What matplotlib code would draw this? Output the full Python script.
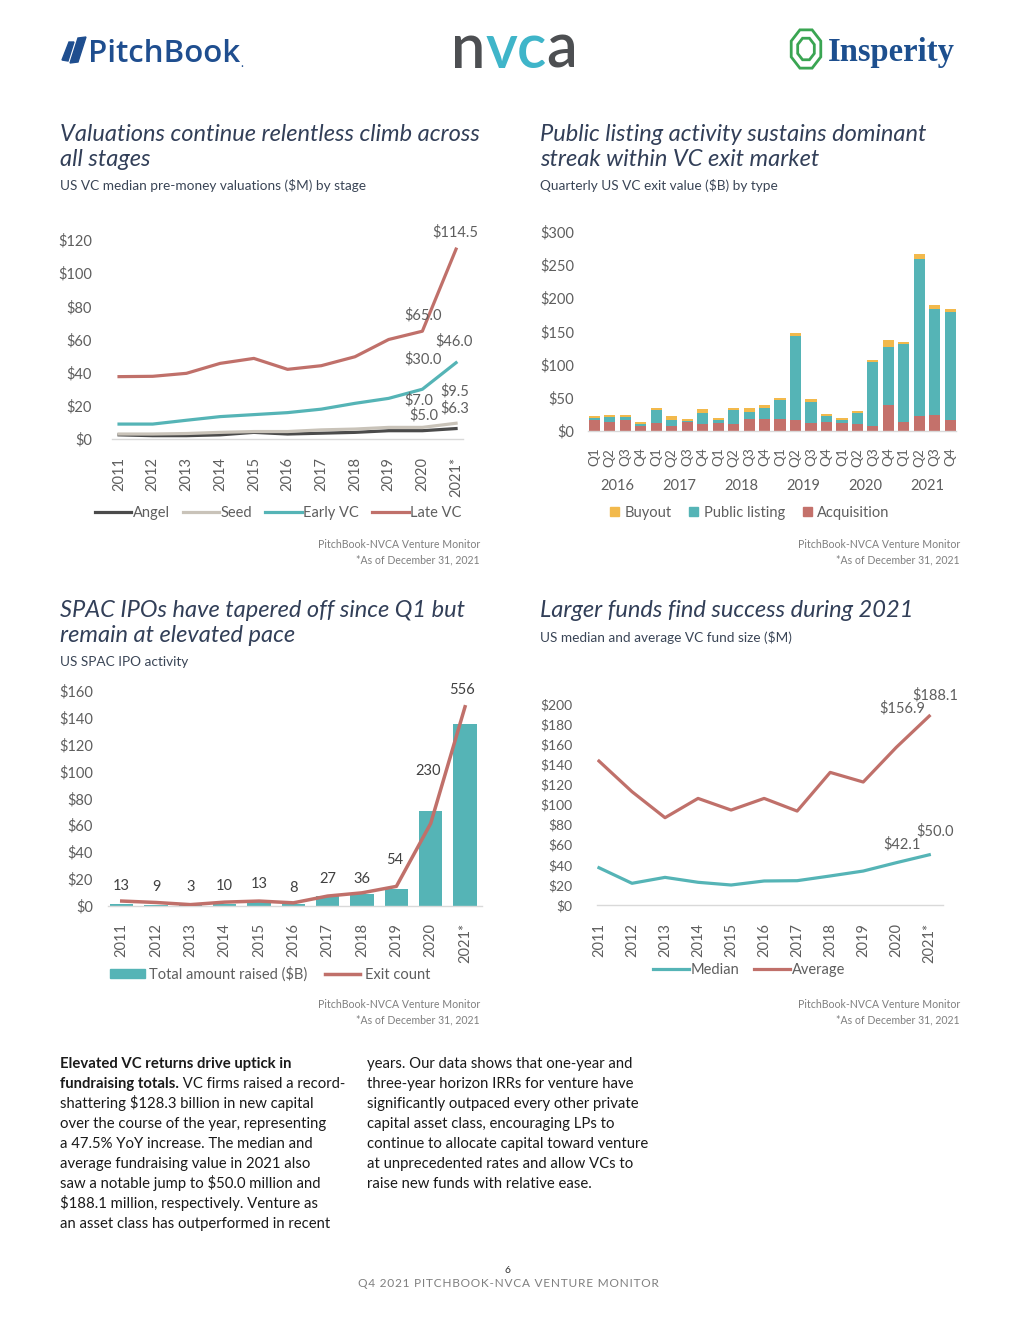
import numpy as np
import matplotlib.pyplot as plt
from matplotlib.lines import Line2D
from matplotlib.patches import Patch, Polygon, RegularPolygon
from matplotlib.text import Annotation

plt.rcParams['font.family'] = ['Lato', 'DejaVu Sans']
plt.rcParams['text.parse_math'] = False

# ---- data ----
years = ['2011', '2012', '2013', '2014', '2015', '2016', '2017', '2018', '2019', '2020', '2021*']

# valuations ($M)
angel = [2.5, 2.0, 2.0, 2.5, 4.0, 3.0, 3.5, 4.0, 5.0, 5.0, 6.3]
seed = [3.0, 3.0, 3.3, 4.0, 4.5, 4.5, 5.5, 6.0, 7.0, 7.0, 9.5]
early_vc = [9.0, 9.0, 11.3, 13.5, 14.7, 15.9, 18.0, 21.5, 24.5, 30.0, 46.0]
late_vc = [37.6, 37.8, 39.6, 45.6, 48.6, 42.0, 44.2, 49.6, 60.0, 65.0, 114.5]
val_ticks = [0, 20, 40, 60, 80, 100, 120]

# exit value ($B)
exit_years = ['2016', '2017', '2018', '2019', '2020', '2021']
quarters = ['Q1', 'Q2', 'Q3', 'Q4'] * 6
acquisition = [17.0, 14.0, 16.5, 8.0, 12.0, 8.0, 13.0, 10.5, 12.5, 11.0, 18.0, 18.0,
               18.0, 16.5, 12.0, 14.0, 12.0, 10.5, 8.0, 39.0, 14.0, 22.6, 24.0, 16.5]
public_listing = [3.0, 7.0, 4.5, 3.0, 19.5, 8.5, 1.5, 16.5, 4.0, 20.5, 10.5, 16.5,
                  28.5, 126.5, 31.6, 8.5, 4.5, 16.5, 96.0, 87.5, 117.0, 236.4, 159.6, 162.0]
buyout = [3.0, 3.0, 3.0, 2.5, 3.0, 6.0, 3.5, 6.0, 3.0, 3.5, 6.0, 4.5,
          3.0, 4.0, 4.5, 3.0, 3.0, 3.0, 3.0, 10.5, 3.0, 7.5, 6.0, 4.5]
exit_ticks = [0, 50, 100, 150, 200, 250, 300]

# SPAC IPOs
spac_raised = [1.6, 0.6, 0.2, 1.0, 3.0, 1.5, 7.5, 9.0, 12.8, 70.5, 135.5]
spac_count = [13, 9, 3, 10, 13, 8, 27, 36, 54, 230, 556]
spac_ticks = [0, 20, 40, 60, 80, 100, 120, 140, 160]

# fund size ($M)
fund_median = [37.1, 21.6, 27.5, 22.6, 19.9, 23.9, 24.2, 28.9, 33.8, 42.1, 50.0]
fund_average = [143.3, 112.8, 86.9, 106.1, 94.5, 106.1, 93.5, 132.0, 122.4, 156.9, 188.1]
fund_ticks = [0, 20, 40, 60, 80, 100, 120, 140, 160, 180, 200]

# ---- colours ----
C_ANGEL = '#4b4b4b'
C_SEED = '#c9c3b9'
C_TEAL = '#55b4b6'
C_RED = '#c0706a'
C_BUY = '#f2b94c'
C_ACQ = '#c4716b'
C_TITLE = '#323f58'
C_SUB = '#3a4556'
C_TICK = '#5e5e5e'
C_SRC = '#7f7f7f'

W, H = 1020, 1320
fig = plt.figure(figsize=(W / 100, H / 100), dpi=100)


def box(left, top, right, bottom):
    return [left / W, 1 - bottom / H, (right - left) / W, (bottom - top) / H]


def ftext(x, y, s, **kw):
    return fig.text(x / W, 1 - y / H, s, va=kw.pop('va', 'baseline'), **kw)


def chain(prev, s, **kw):
    # text placed right after another text, on the same baseline
    a = Annotation(s, xy=(1, 0), xycoords=prev, va='bottom', ha='left',
                   annotation_clip=False, **kw)
    fig.add_artist(a)
    return a


def style(ax, xpad, ypad, size=10.5):
    for side in ['top', 'left', 'right']:
        ax.spines[side].set_visible(False)
    ax.spines['bottom'].set_color('#d9d9d9')
    ax.spines['bottom'].set_linewidth(1)
    ax.tick_params(axis='both', length=0, labelcolor=C_TICK, labelsize=size)
    ax.tick_params(axis='x', pad=xpad)
    ax.tick_params(axis='y', pad=ypad)
    ax.set_facecolor('none')


def titles(x, y, lines, sub):
    for i, line in enumerate(lines):
        ftext(x, y + i * 24.5, line, fontsize=17, style='italic', color=C_TITLE)
    ftext(x, y + len(lines) * 24.5, sub, fontsize=9.8, color=C_SUB)


def source(x, y):
    ftext(x, y, 'PitchBook-NVCA Venture Monitor', fontsize=7.6, color=C_SRC, ha='right')
    ftext(x, y + 15, '*As of December 31, 2021', fontsize=7.6, color=C_SRC, ha='right')


x = np.arange(len(years))

# ---- chart 1: valuations ----
titles(60, 141, ['Valuations continue relentless climb across', 'all stages'],
       'US VC median pre-money valuations ($M) by stage')
ax1 = fig.add_axes(box(112.3, 223.4, 462.8, 439))
ax1.plot(x, angel, color=C_ANGEL, lw=2.3, label='Angel')
ax1.plot(x, seed, color=C_SEED, lw=2.3, label='Seed')
ax1.plot(x, early_vc, color=C_TEAL, lw=2.3, label='Early VC')
ax1.plot(x, late_vc, color=C_RED, lw=2.3, label='Late VC')
ax1.set_xlim(-0.2, 10.2)
ax1.set_ylim(0, 130)
ax1.set_yticks(val_ticks)
ax1.set_yticklabels([f'${t}' for t in val_ticks])
ax1.set_xticks(x)
ax1.set_xticklabels(years, rotation=90)
style(ax1, 13, 14.5)
for series, i, dx, dy in [(late_vc, 10, -1, 17), (late_vc, 9, 1, 16),
                          (early_vc, 10, -2, 21), (early_vc, 9, 1, 30),
                          (seed, 10, -1, 32), (seed, 9, -4, 27),
                          (angel, 10, -1, 20), (angel, 9, 1, 15)]:
    ax1.annotate(f'${series[i]:.1f}', xy=(i, series[i]), xytext=(dx, dy),
                 textcoords='offset pixels', ha='center', va='center',
                 fontsize=10.5, color=C_TICK)
ax1.legend(loc='center', bbox_to_anchor=(278 / W, 1 - 513 / H),
           bbox_transform=fig.transFigure, ncol=4, frameon=False,
           handlelength=2.5, handletextpad=0.1, columnspacing=0.9,
           fontsize=10.5, labelcolor=C_TICK)
source(480, 548)

# ---- chart 2: exits ----
titles(540, 141, ['Public listing activity sustains dominant', 'streak within VC exit market'],
       'Quarterly US VC exit value ($B) by type')
ax2 = fig.add_axes(box(588.1, 218.4, 956.5, 431))
q = np.arange(len(quarters))
bottom2 = np.array(acquisition)
ax2.bar(q, acquisition, width=0.72, color=C_ACQ)
ax2.bar(q, public_listing, width=0.72, bottom=bottom2, color=C_TEAL)
bottom2 = bottom2 + np.array(public_listing)
ax2.bar(q, buyout, width=0.72, bottom=bottom2, color=C_BUY)
ax2.set_xlim(-0.4, 23.4)
ax2.set_ylim(0, 320)
ax2.set_yticks(exit_ticks)
ax2.set_yticklabels([f'${t}' for t in exit_ticks])
ax2.set_xticks(q)
ax2.set_xticklabels(quarters, rotation=90)
style(ax2, 12, 10)
ax2.tick_params(axis='x', labelsize=9.8)
for k, yr in enumerate(exit_years):
    ax2.text(4 * k + 1.5, 1 - (485.7 - 218.4) / (431 - 218.4), yr,
             transform=ax2.get_xaxis_transform(), ha='center', va='center',
             fontsize=10.5, color=C_TICK)
ax2.legend([Patch(color=C_BUY), Patch(color=C_TEAL), Patch(color=C_ACQ)],
           ['Buyout', 'Public listing', 'Acquisition'],
           loc='center', bbox_to_anchor=(750 / W, 1 - 513 / H),
           bbox_transform=fig.transFigure, ncol=3, frameon=False,
           handlelength=0.6, handleheight=0.6, handletextpad=0.4, columnspacing=1.2,
           fontsize=10.5, labelcolor=C_TICK)
source(960, 548)

# ---- chart 3: SPAC ----
titles(60, 617, ['SPAC IPOs have tapered off since Q1 but', 'remain at elevated pace'],
       'US SPAC IPO activity')
ax3 = fig.add_axes(box(108, 677.6, 482.2, 905.7))
ax3.bar(x, spac_raised, width=0.68, color=C_TEAL)
ax3.set_xlim(-0.4, 10.5)
ax3.set_ylim(0, 170)
ax3.set_yticks(spac_ticks)
ax3.set_yticklabels([f'${t}' for t in spac_ticks])
ax3.set_xticks(x)
ax3.set_xticklabels(years, rotation=90)
style(ax3, 12.2, 11)
ax3b = ax3.twinx()
ax3b.plot(x, spac_count, color=C_RED, lw=2.5)
ax3b.set_ylim(0, 637.5)
ax3b.axis('off')
offsets3 = [(0, 15), (0, 15), (0, 18), (0, 16), (0, 17), (0, 15), (0, 17),
            (0, 14), (-2, 26), (-3, 52), (-3, 17)]
for i, (dx, dy) in enumerate(offsets3):
    ax3b.annotate(str(spac_count[i]), xy=(i, spac_count[i]), xytext=(dx, dy),
                  textcoords='offset pixels', ha='center', va='center',
                  fontsize=10.5, color='#404040')
ax3.legend([Patch(color=C_TEAL), Line2D([], [], color=C_RED, lw=2.5)],
           ['Total amount raised ($B)', 'Exit count'],
           loc='center', bbox_to_anchor=(270 / W, 1 - 974 / H),
           bbox_transform=fig.transFigure, ncol=2, frameon=False,
           handlelength=2.4, handleheight=0.6, handletextpad=0.3, columnspacing=1.2,
           fontsize=10.5, labelcolor=C_TICK)
source(480, 1008)

# ---- chart 4: fund size ----
titles(540, 617, ['Larger funds find success during 2021'],
       'US median and average VC fund size ($M)')
ax4 = fig.add_axes(box(597.3, 689, 942.5, 905))
ax4.plot(x, fund_median, color=C_TEAL, lw=2.3, label='Median')
ax4.plot(x, fund_average, color=C_RED, lw=2.3, label='Average')
ax4.set_xlim(-0.05, 10.4)
ax4.set_ylim(0, 215)
ax4.set_yticks(fund_ticks)
ax4.set_yticklabels([f'${t}' for t in fund_ticks])
ax4.set_xticks(x)
ax4.set_xticklabels(years, rotation=90)
style(ax4, 12.7, 18, size=10)
ax4.tick_params(axis='x', labelsize=10.5)
for series, i, dx, dy in [(fund_average, 10, 6, 21), (fund_average, 9, 6, 39),
                          (fund_median, 10, 6, 24), (fund_median, 9, 6, 18)]:
    ax4.annotate(f'${series[i]:.1f}', xy=(i, series[i]), xytext=(dx, dy),
                 textcoords='offset pixels', ha='center', va='center',
                 fontsize=10.5, color=C_TICK)
ax4.legend(loc='center', bbox_to_anchor=(749 / W, 1 - 970 / H),
           bbox_transform=fig.transFigure, ncol=2, frameon=False,
           handlelength=2.5, handletextpad=0.1, columnspacing=1.0,
           fontsize=10.5, labelcolor=C_TICK)
source(960, 1008)

# ---- header logos ----
pb = '#1f4e8f'
for pts in [[(70, 63), (78, 38), (86, 37), (78, 62)],
            [(62, 60), (69, 42), (74, 42), (68, 61)]]:
    fig.patches.append(Polygon([(px / W, 1 - py / H) for px, py in pts], closed=True,
                               color=pb, transform=fig.transFigure))
pb_txt = ftext(88, 62, 'PitchBook', fontsize=22.5, color=pb, family='Open Sans',
               weight='semibold')
chain(pb_txt, '.', fontsize=9, color=pb)

n_txt = ftext(451, 68, 'n', fontsize=44, color='#4d4f52', weight='semibold')
vc_txt = chain(n_txt, 'vc', fontsize=44, color='#3fb5c9', weight='semibold')
chain(vc_txt, 'a', fontsize=44, color='#4d4f52', weight='semibold')

ins_g = '#3aa552'
for r in [16, 9]:
    fig.patches.append(RegularPolygon((806 / W, 1 - 49 / H), 8, radius=r / W,
                                      orientation=np.pi / 8, fill=False, ec=ins_g, lw=2,
                                      transform=fig.transFigure))
ftext(828, 61, 'Insperity', fontsize=23.5, color='#1d4f8e', family='Liberation Serif',
      weight='bold')

# ---- body text ----
col1 = ['shattering $128.3 billion in new capital',
        'over the course of the year, representing',
        'a 47.5% YoY increase. The median and',
        'average fundraising value in 2021 also',
        'saw a notable jump to $50.0 million and',
        '$188.1 million, respectively. Venture as',
        'an asset class has outperformed in recent']
col2 = ['years. Our data shows that one-year and',
        'three-year horizon IRRs for venture have',
        'significantly outpaced every other private',
        'capital asset class, encouraging LPs to',
        'continue to allocate capital toward venture',
        'at unprecedented rates and allow VCs to',
        'raise new funds with relative ease.']
body = dict(fontsize=10.7, color='#1a1a1a')
ftext(60, 1068, 'Elevated VC returns drive uptick in', weight='bold', **body)
b2 = ftext(60, 1088, 'fundraising totals.', weight='bold', **body)
chain(b2, ' VC firms raised a record-', **body)
for i, line in enumerate(col1):
    ftext(60, 1108 + 20 * i, line, **body)
for i, line in enumerate(col2):
    ftext(367, 1068 + 20 * i, line, **body)

# ---- footer ----
ftext(508, 1273, '6', fontsize=7.5, color='#333333', ha='center')
footer = '\u200a'.join('Q4 2021 PITCHBOOK-NVCA VENTURE MONITOR')
ftext(508, 1287, footer, fontsize=8.6, color='#7f7f7f', ha='center')

fig.savefig('out.png', dpi=100)
